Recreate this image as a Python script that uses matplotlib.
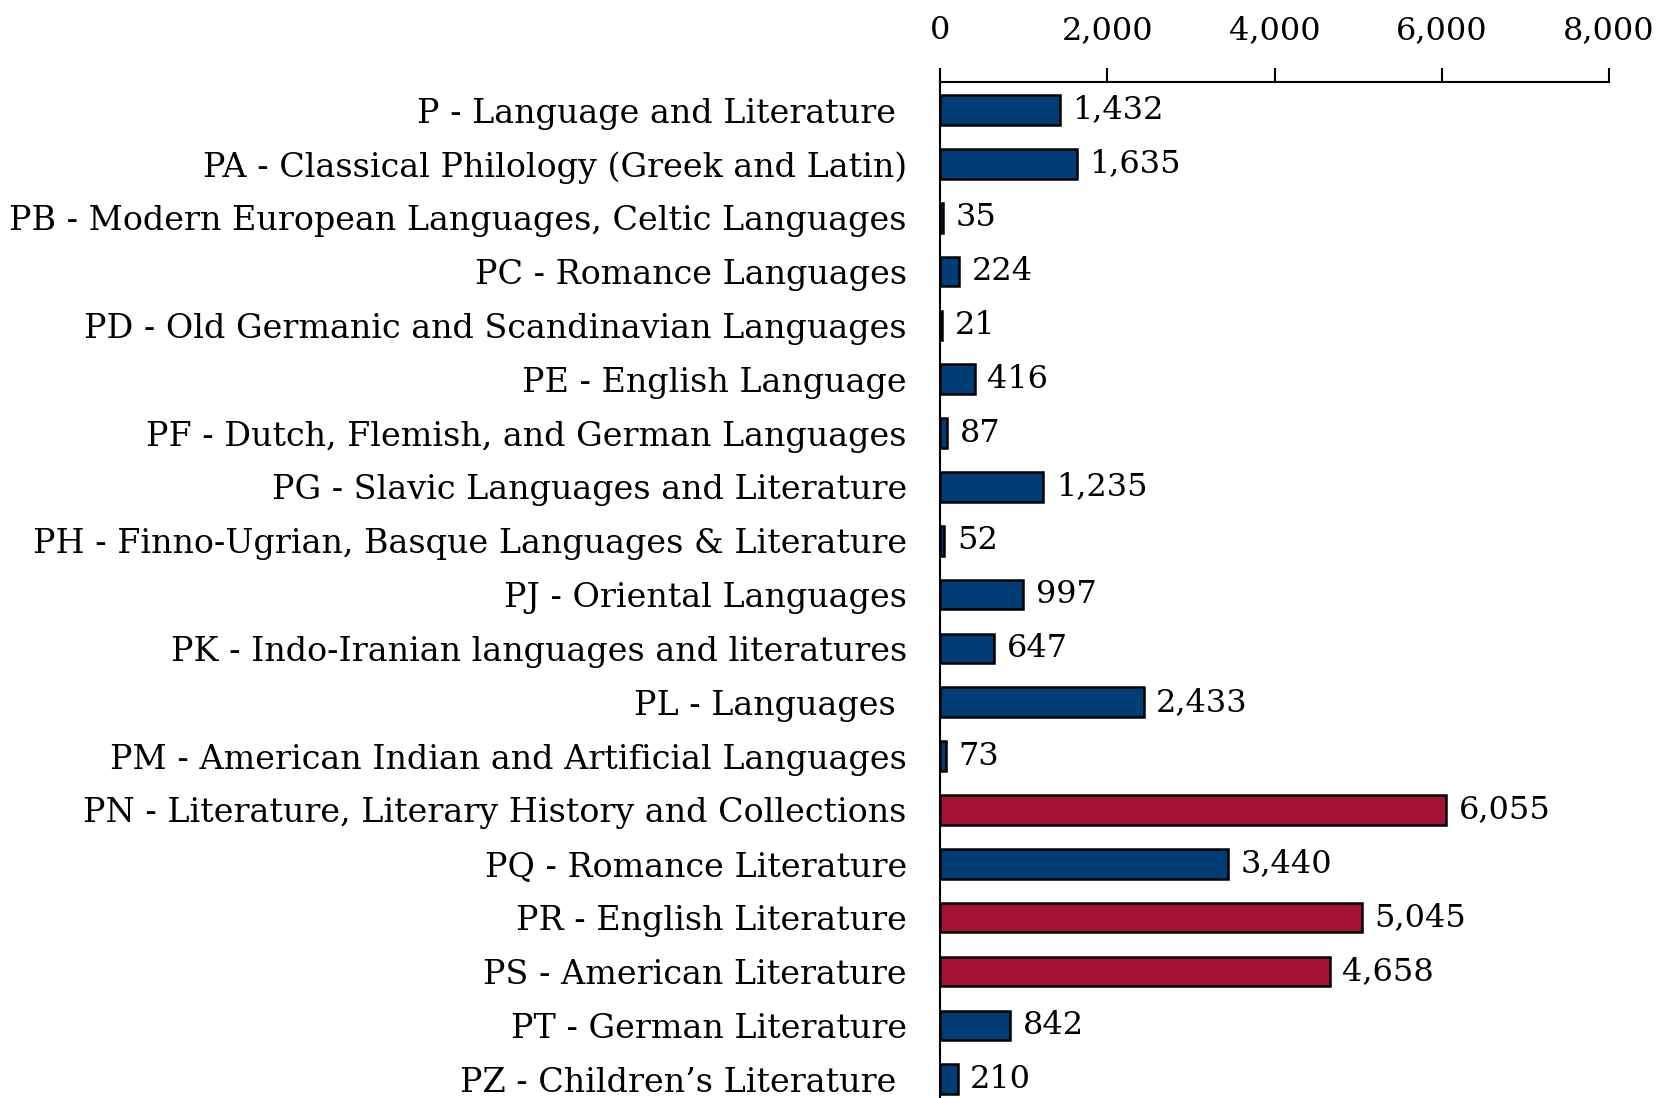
import matplotlib.pyplot as plt
import numpy as np

categories = [
    "P - Language and Literature ",
    "PA - Classical Philology (Greek and Latin)",
    "PB - Modern European Languages, Celtic Languages",
    "PC - Romance Languages",
    "PD - Old Germanic and Scandinavian Languages",
    "PE - English Language",
    "PF - Dutch, Flemish, and German Languages",
    "PG - Slavic Languages and Literature",
    "PH - Finno-Ugrian, Basque Languages & Literature",
    "PJ - Oriental Languages",
    "PK - Indo-Iranian languages and literatures",
    "PL - Languages ",
    "PM - American Indian and Artificial Languages",
    "PN - Literature, Literary History and Collections",
    "PQ - Romance Literature",
    "PR - English Literature",
    "PS - American Literature",
    "PT - German Literature",
    "PZ - Children\u2019s Literature ",
]
counts = [1432, 1635, 35, 224, 21, 416, 87, 1235, 52, 997, 647, 2433, 73,
          6055, 3440, 5045, 4658, 842, 210]
highlight = ["PN", "PR", "PS"]

blue = "#003C75"
red = "#A31234"

plt.rcParams["font.family"] = ["DejaVu Serif"]

fig = plt.figure(figsize=(16.58, 10.98), dpi=100)
ax = fig.add_axes([0.567, 0.0, 0.4035, 0.9253])

y = np.arange(len(categories))
colors = [red if c.split(" ")[0] in highlight else blue for c in categories]
ax.barh(y, counts, height=0.55, color=colors, edgecolor="black", linewidth=1.8)

for yi, v in zip(y, counts):
    ax.text(v + 150, yi, f"{v:,}", va="center", ha="left", fontsize=23)

ax.set_xlim(0, 8000)
ax.set_ylim(18.35, -0.52)
ax.set_yticks(y)
ax.set_yticklabels(categories, fontsize=24)
ax.set_xticks([0, 2000, 4000, 6000, 8000])
ax.set_xticklabels(["0", "2,000", "4,000", "6,000", "8,000"], fontsize=23)
ax.xaxis.tick_top()
ax.tick_params(axis="x", length=10, width=1.5, pad=16, direction="out")
ax.tick_params(axis="y", length=0, pad=24)
for s in ["right", "bottom"]:
    ax.spines[s].set_visible(False)
ax.spines["top"].set_linewidth(1.5)
ax.spines["left"].set_linewidth(1.5)

fig.savefig("out.png", dpi=100)
